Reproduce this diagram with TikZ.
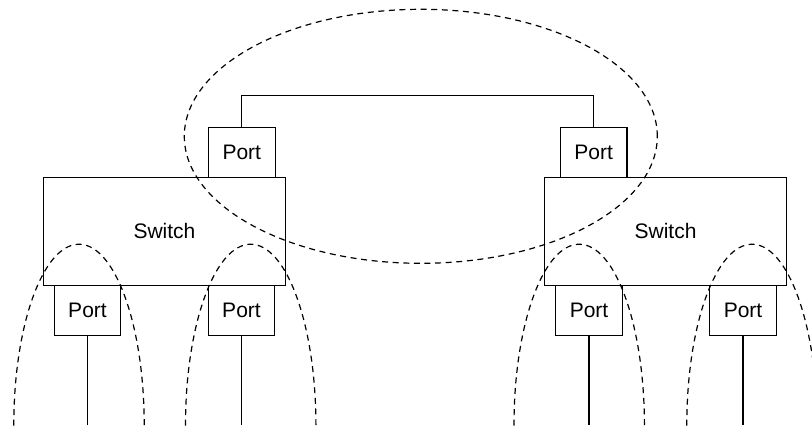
\documentclass[tikz,border=0pt]{standalone}
\usepackage{fontspec}
\setmainfont{Liberation Sans}
\usetikzlibrary{positioning}

\begin{document}
\begin{tikzpicture}[x=0.5pt, y=-0.5pt, line width=0.6pt,
    font=\fontsize{10.5}{12}\selectfont,
    switchbox/.style={draw, inner sep=0pt, minimum width=121pt, minimum height=54pt},
    portbox/.style={draw, inner sep=0pt, minimum width=33.3pt, minimum height=25pt},
    ring/.style={dash pattern=on 3pt off 2.3pt}]
    \useasboundingbox (0,0) rectangle (812,425);
    \clip (0,0) rectangle (812,425);
    \coordinate (bottom) at (0,425);
    % switches
    \node[switchbox] (swL) at (164.5, 231.3) {Switch};
    \node[switchbox] (swR) at (665.5, 231.3) {Switch};
    % uplink ports
    \node[portbox] (upL) at (241.8, 152.7) {Port};
    \node[portbox] (upR) at (593.7, 152.7) {Port};
    % host ports
    \node[portbox] (pA) at (87.5, 310.2) {Port};
    \node[portbox] (pB) at (241.5, 310.2) {Port};
    \node[portbox] (pC) at (589, 310.2) {Port};
    \node[portbox] (pD) at (743, 310.2) {Port};
    \draw (upL.north) -- ++(0, -31.4) -| (upR.north);
    \draw (pA.south) -- (pA.south |- bottom);
    \draw (pB.south) -- (pB.south |- bottom);
    \draw (pC.south) -- (pC.south |- bottom);
    \draw (pD.south) -- (pD.south |- bottom);
    % segments
    \draw[ring] (420.8, 136.3) ellipse [x radius=118.25pt, y radius=63.5pt];
    \draw[ring] (79, 425) ellipse [x radius=32.6pt, y radius=90.4pt];
    \draw[ring] (250.7, 425) ellipse [x radius=32.6pt, y radius=90.4pt];
    \draw[ring] (579.2, 425) ellipse [x radius=32.6pt, y radius=90.4pt];
    \draw[ring] (752, 425) ellipse [x radius=32.6pt, y radius=90.4pt];
  \end{tikzpicture}
\end{document}
